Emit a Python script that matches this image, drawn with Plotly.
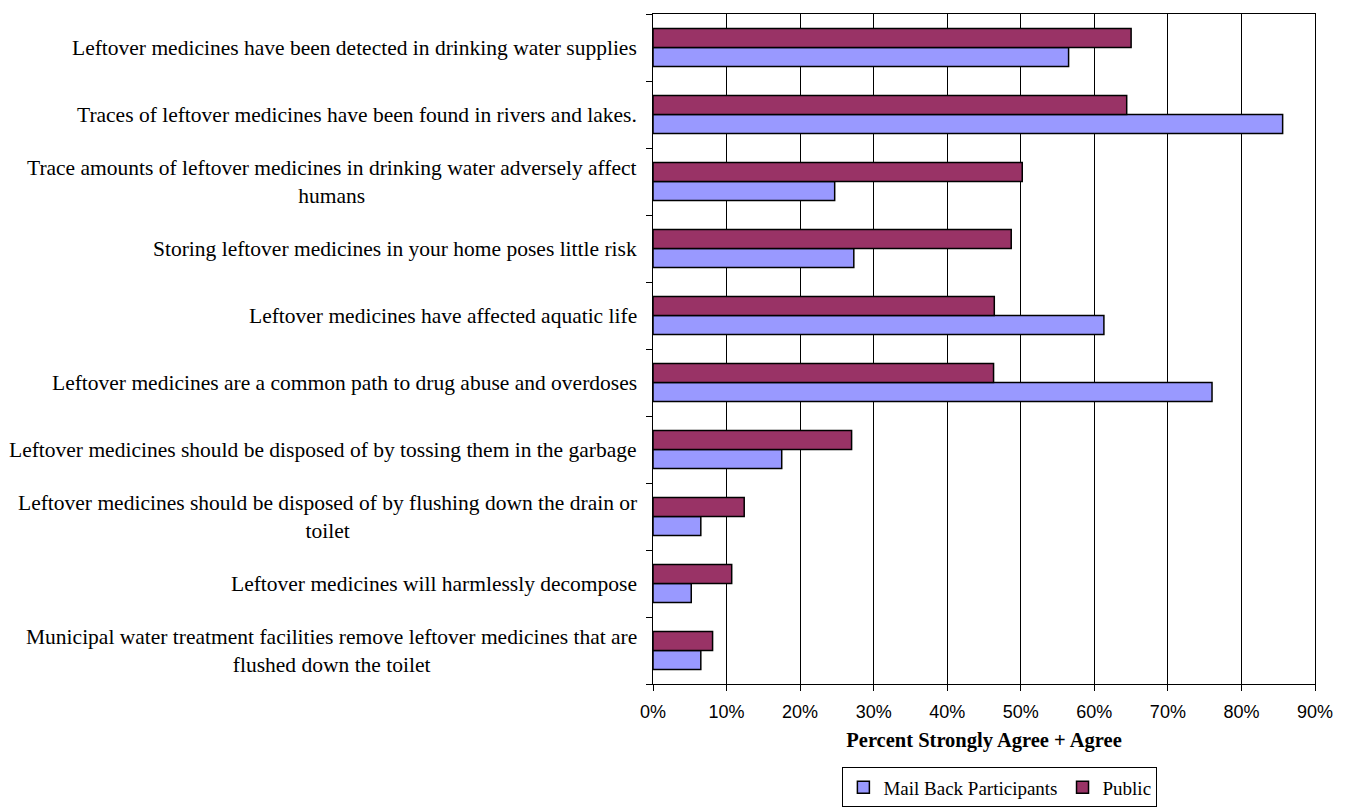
import plotly.graph_objects as go

categories = [
    "Leftover medicines have been detected in drinking water supplies",
    "Traces of leftover medicines have been found in rivers and lakes.",
    "Trace amounts of leftover medicines in drinking water adversely affect<br>humans",
    "Storing leftover medicines in your home poses little risk",
    "Leftover medicines have affected aquatic life",
    "Leftover medicines are a common path to drug abuse and overdoses",
    "Leftover medicines should be disposed of by tossing them in the garbage",
    "Leftover medicines should be disposed of by flushing down the drain or<br>toilet",
    "Leftover medicines will harmlessly decompose",
    "Municipal water treatment facilities remove leftover medicines that are<br>flushed down the toilet",
]
mail_back = [56.5, 85.6, 24.7, 27.3, 61.3, 76.0, 17.5, 6.5, 5.2, 6.5]
public = [65.0, 64.4, 50.2, 48.7, 46.4, 46.3, 27.0, 12.4, 10.7, 8.1]
x_ticks = [0, 10, 20, 30, 40, 50, 60, 70, 80, 90]

cat_ids = [f"c{i}" for i in range(len(categories))]
order_bottom_up = cat_ids[::-1]

fig = go.Figure()
fig.add_trace(go.Bar(
    y=cat_ids, x=mail_back, orientation="h", name="Mail Back Participants",
    marker=dict(color="#9999FF", line=dict(color="black", width=1.5)),
))
fig.add_trace(go.Bar(
    y=cat_ids, x=public, orientation="h", name="Public",
    marker=dict(color="#993366", line=dict(color="black", width=1.5)),
))

for cid, label in zip(cat_ids, categories):
    fig.add_annotation(
        x=0, xref="paper", y=cid, yref="y", text=label, showarrow=False,
        xanchor="right", xshift=-14, align="center",
        font=dict(family="Liberation Serif", size=21.5, color="black"),
    )

fig.update_layout(
    width=1348, height=809,
    margin=dict(l=653, r=33, t=14, b=125),
    plot_bgcolor="white", paper_bgcolor="white",
    barmode="group", bargap=0.43, bargroupgap=0,
    showlegend=True,
    legend=dict(
        orientation="h", x=0.524, xanchor="center",
        yref="container", y=0.002, yanchor="bottom",
        bordercolor="black", borderwidth=1,
        font=dict(family="Liberation Serif", size=19, color="black"),
        itemwidth=30, tracegroupgap=0,
    ),
    xaxis=dict(
        range=[0, 90], tickvals=x_ticks, ticktext=[f"{v}%" for v in x_ticks],
        showgrid=True, gridcolor="black", gridwidth=1,
        showline=True, linecolor="black", linewidth=1, mirror=True,
        ticks="outside", ticklen=6, tickcolor="black", ticklabelstandoff=5,
        tickfont=dict(family="Liberation Sans", size=18, color="black"),
        title=dict(text="<b>Percent Strongly Agree + Agree</b>", standoff=12,
                   font=dict(family="Liberation Serif", size=20.5, color="black")),
        zeroline=False, automargin=False,
    ),
    yaxis=dict(
        categoryorder="array", categoryarray=order_bottom_up,
        showticklabels=False, tickson="boundaries", ticks="outside", ticklen=6,
        tickcolor="black", showline=True, linecolor="black", linewidth=1,
        mirror=True, showgrid=False, automargin=False,
    ),
)

fig.write_html("out.html")
